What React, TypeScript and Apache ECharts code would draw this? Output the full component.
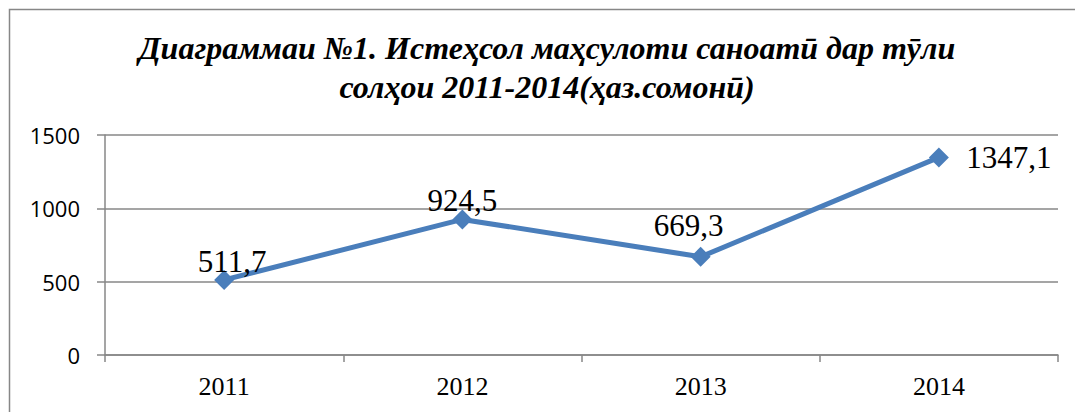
import React, { useEffect, useRef } from "react";
import * as echarts from "echarts";

const titleLines = [
  "Диаграммаи №1. Истеҳсол маҳсулоти саноатӣ дар тӯли",
  "солҳои 2011-2014(ҳаз.сомонӣ)",
];
const years = ["2011", "2012", "2013", "2014"];
const values = [511.7, 924.5, 669.3, 1347.1];
const valueLabels = ["511,7", "924,5", "669,3", "1347,1"];
const labelOffsets: number[][] = [
  [8, -18],
  [0, -19],
  [-12, -31],
  [70, 0],
];
const yTicks = { min: 0, max: 1500, interval: 500 };

const GRAY = "#878787";
const BLUE = "#4A7EBB";
const SERIF = "Liberation Serif";

export default function App() {
  const ref = useRef<HTMLDivElement>(null);
  useEffect(() => {
    if (!ref.current) return;
    const chart = echarts.init(ref.current, undefined, { renderer: "svg" });
    chart.setOption({
      animation: false,
      backgroundColor: "#ffffff",
      title: {
        text: titleLines.join("\n"),
        left: 542,
        top: 23,
        textAlign: "center",
        textStyle: {
          fontFamily: SERIF,
          fontSize: 32,
          lineHeight: 39,
          fontWeight: "bold",
          fontStyle: "italic",
          color: "#000",
        },
      },
      graphic: [
        {
          type: "rect",
          shape: { x: 9.5, y: 9.5, width: 1200, height: 600 },
          style: { fill: "none", stroke: GRAY, lineWidth: 1.5 },
          silent: true,
          z: -1,
        },
      ],
      grid: { left: 105, right: 17, top: 135, bottom: 57 },
      xAxis: {
        type: "category",
        data: years,
        boundaryGap: true,
        axisLine: { show: true, lineStyle: { color: GRAY, width: 1.5 } },
        axisTick: { show: true, length: 7, lineStyle: { color: GRAY, width: 1.5 } },
        axisLabel: {
          color: "#000",
          fontFamily: SERIF,
          fontSize: 26,
          margin: 18,
        },
        splitLine: { show: false },
      },
      yAxis: {
        type: "value",
        min: yTicks.min,
        max: yTicks.max,
        interval: yTicks.interval,
        axisLine: { show: true, lineStyle: { color: GRAY, width: 1.5 } },
        axisTick: { show: true, length: 8, lineStyle: { color: GRAY, width: 1.5 } },
        axisLabel: {
          color: "#000",
          fontFamily: "Open Sans",
          fontSize: 22,
          margin: 25,
          formatter: (v: number) => String(v),
        },
        splitLine: { show: true, lineStyle: { color: GRAY, width: 1.5 } },
      },
      series: [
        {
          type: "line",
          data: values.map((v, i) => ({
            value: v,
            label: {
              show: true,
              position: "inside",
              offset: labelOffsets[i],
              formatter: valueLabels[i],
            },
          })),
          symbol: "diamond",
          symbolSize: 20,
          lineStyle: { color: BLUE, width: 5 },
          itemStyle: { color: BLUE },
          label: {
            color: "#000",
            fontFamily: SERIF,
            fontSize: 31,
          },
        },
      ],
    });
    return () => chart.dispose();
  }, []);
  return (
    <div
      ref={ref}
      style={{ position: "fixed", left: 0, top: 0, width: 1075, height: 412 }}
    />
  );
}
